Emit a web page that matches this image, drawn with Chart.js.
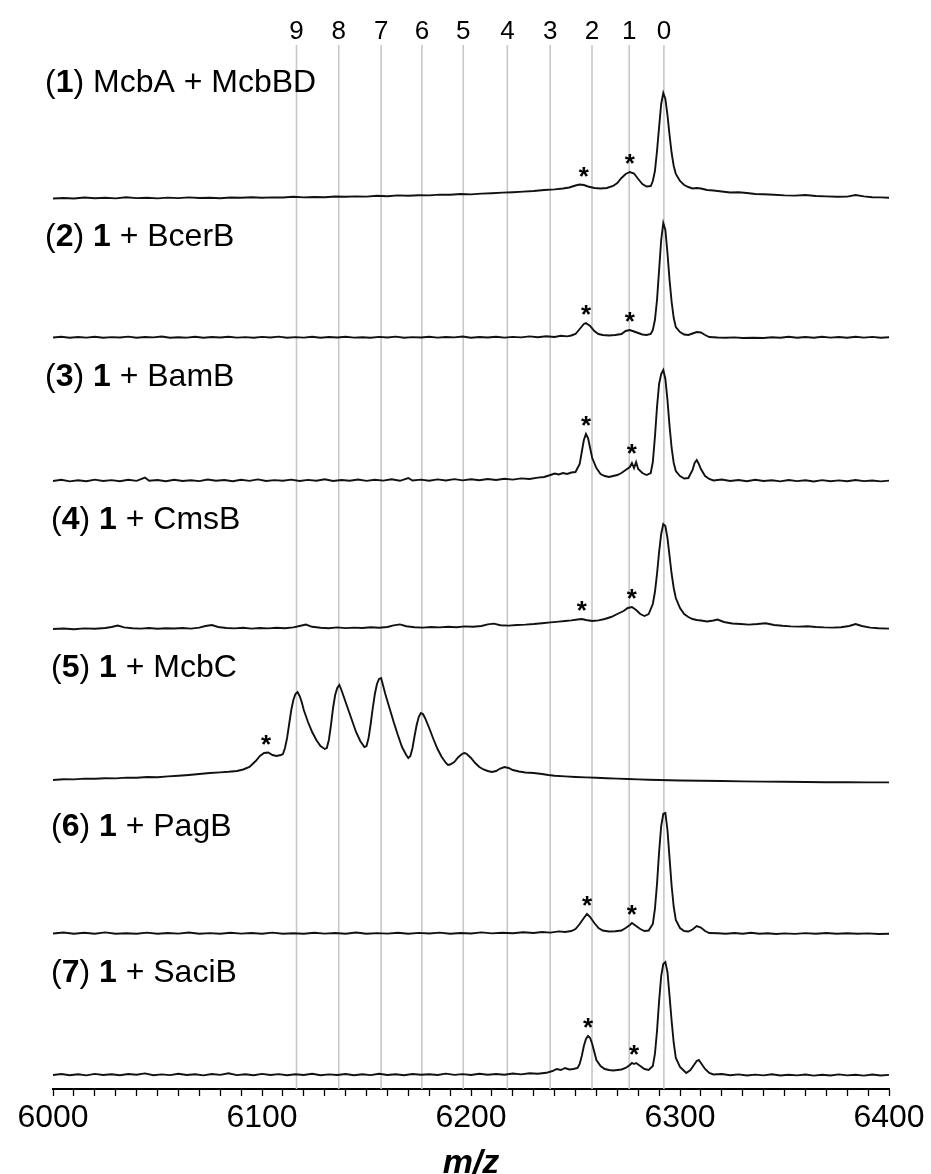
<!DOCTYPE html>
<html>
<head>
<meta charset="utf-8">
<script src="https://cdn.jsdelivr.net/npm/chart.js@4.4.0/dist/chart.umd.min.js"></script>
<style>
  html, body { margin: 0; padding: 0; background: #fff; }
  #wrap { width: 931px; height: 1174px; }
</style>
</head>
<body>
<div id="wrap"><canvas id="chart" width="931" height="1174"></canvas></div>
<script>
// m/z positions of the numbered reference lines and their labels
const markerMz = [6116.5, 6136.7, 6157, 6176.5, 6196.3, 6217.4, 6237.9, 6257.9, 6275.7, 6292.3];
const markerLabels = ['9', '8', '7', '6', '5', '4', '3', '2', '1', '0'];

// panel names: [panel number, rest of the label]
const panelNums = ['1', '2', '3', '4', '5', '6', '7'];
const panelNames = ['McbA + McbBD', 'BcerB', 'BamB', 'CmsB', 'McbC', 'PagB', 'SaciB'];

// baseline of each trace on the stacked intensity axis
const panelOffsets = [890, 751, 607, 459, 309, 155, 13];

// m/z of the peaks marked with *
const starMz = [
  [6254, 6276],
  [6255, 6276],
  [6255, 6277],
  [6253, 6277],
  [6102],
  [6255.5, 6277],
  [6256, 6278]
];

// spectra: [m/z, intensity]
const spec1 = [[6000,0.5],[6005,1],[6010,0.5],[6015,1.5],[6020,0.8],[6025,1.2],[6030,0.6],[6035,1.8],[6040,0.9],[6045,1.2],[6050,0.6],[6055,1.4],[6060,0.9],[6065,1.6],[6070,1],[6075,1.2],[6080,0.8],[6085,1.5],[6090,1.3],[6095,1.8],[6100,1.2],[6105,1.6],[6110,1.5],[6115,2.2],[6120,1.6],[6125,2],[6130,1.8],[6135,2.5],[6140,2.2],[6145,2.6],[6150,2.4],[6155,3.2],[6160,2.8],[6165,3.6],[6170,3.2],[6175,3.8],[6180,3.6],[6185,4.4],[6190,4.2],[6195,5],[6200,4.6],[6205,5.4],[6210,5.8],[6215,6.4],[6220,6.8],[6225,7.4],[6230,8],[6235,9],[6240,9.6],[6244,10.5],[6247,11.5],[6250,13.5],[6252,14.5],[6254,14],[6256,12.5],[6259,11],[6262,10.5],[6265,11],[6268,13],[6270,16],[6272,21],[6274,25],[6276,27],[6278,25.5],[6280,20],[6282,15],[6284,12.5],[6286,13],[6287,18],[6288,28],[6289,48],[6290,72],[6291,95],[6292,106],[6293,100],[6294,84],[6295,64],[6296,46],[6297,33],[6298,25],[6300,18],[6302,14],[6304,12],[6306,10.5],[6308,11],[6310,10.5],[6313,9],[6316,8.5],[6320,7.5],[6324,6.5],[6328,6.8],[6332,6],[6336,5],[6340,4.8],[6345,4.2],[6350,3.6],[6355,3.4],[6360,4],[6365,3],[6370,2.6],[6375,2.2],[6380,2.4],[6384,4],[6388,2.6],[6392,1.8],[6396,1.6],[6400,1.2]];

const spec2 = [[6000,0.5],[6004,1.2],[6008,0.3],[6012,1],[6016,0.4],[6020,1.3],[6024,0.2],[6028,0.9],[6032,0.5],[6036,1.4],[6040,0.3],[6044,1],[6048,0.6],[6052,1.5],[6056,0.2],[6060,0.8],[6064,0.4],[6068,1.2],[6072,0.3],[6076,1],[6080,0.5],[6084,1.3],[6088,0.4],[6092,0.9],[6096,0.3],[6100,1.1],[6104,0.5],[6108,1.4],[6112,0.2],[6116,0.9],[6120,0.4],[6124,1.2],[6128,0.3],[6132,1],[6136,0.5],[6140,1.3],[6144,0.4],[6148,0.8],[6152,0.3],[6156,1.1],[6160,0.5],[6164,1.4],[6168,0.3],[6172,0.9],[6176,0.5],[6180,1.2],[6184,0.4],[6188,1],[6192,0.6],[6196,1.5],[6200,0.3],[6204,1],[6208,0.5],[6212,1.3],[6216,0.4],[6220,1.1],[6224,0.6],[6228,1.6],[6232,0.8],[6236,1.8],[6240,1],[6243,2.2],[6246,1.6],[6248,2.5],[6250,4],[6252,9],[6254,14],[6255,15],[6257,12],[6259,7],[6261,4],[6263,3],[6266,2.5],[6269,3],[6272,4],[6274,7],[6276,8],[6278,6.5],[6280,5],[6282,3.5],[6284,3],[6286,4],[6287,8],[6288,18],[6289,38],[6290,68],[6291,98],[6292,115],[6293,108],[6294,85],[6295,58],[6296,36],[6297,20],[6298,11],[6300,6],[6302,3.5],[6304,3],[6306,4.5],[6308,6],[6310,5.5],[6312,3],[6314,1],[6318,0.5],[6322,0.2],[6326,0.6],[6330,0],[6335,0.3],[6340,0],[6344,0.8],[6348,0.2],[6352,1.2],[6356,0.3],[6360,1],[6364,0.2],[6368,1.3],[6372,0.4],[6376,1],[6380,0.3],[6384,1.2],[6388,0.4],[6392,1.1],[6396,0.3],[6400,0.8]];

const spec3 = [[6000,1],[6004,2.2],[6008,0.6],[6012,1.8],[6016,0.8],[6020,2.4],[6024,1],[6028,1.9],[6032,0.7],[6036,2.2],[6040,1.1],[6044,4.5],[6046,1.2],[6050,2],[6054,0.8],[6058,2.3],[6062,1],[6066,1.8],[6070,0.9],[6074,2.5],[6078,1.2],[6082,2],[6086,0.8],[6090,2.2],[6094,1.1],[6098,2.6],[6102,1],[6106,1.9],[6110,1.3],[6114,2.4],[6118,1],[6122,2.1],[6126,1.2],[6130,2.7],[6134,1],[6138,2],[6142,1.3],[6146,2.5],[6150,1.1],[6154,2.2],[6158,1.4],[6162,2.8],[6166,1.2],[6170,4],[6172,1.5],[6176,2.4],[6180,1.3],[6184,2.6],[6188,1.5],[6192,2.9],[6196,1.6],[6200,2.7],[6204,1.8],[6208,3],[6212,2],[6216,3.2],[6220,2.4],[6224,3.6],[6228,3],[6232,4.4],[6235,5],[6238,7],[6240,8.5],[6242,7.5],[6244,9],[6246,8],[6248,9.5],[6250,10],[6252,18],[6253,30],[6254,42],[6255,48],[6256,44],[6257,34],[6258,24],[6260,14],[6262,8],[6264,6],[6266,5],[6268,6],[6270,7],[6272,9],[6274,12],[6276,15],[6277,19],[6278,14],[6279,20],[6280,13],[6282,9],[6284,7],[6286,9],[6287,20],[6288,45],[6289,75],[6290,98],[6291,108],[6292,112],[6293,103],[6294,82],[6295,56],[6296,34],[6297,19],[6298,11],[6300,6],[6302,3.5],[6304,4],[6306,12],[6307,19],[6308,22],[6309,18],[6310,13],[6312,6],[6314,3],[6316,1.5],[6320,2.5],[6324,1],[6328,2],[6332,0.8],[6336,2.2],[6340,1],[6344,1.8],[6348,0.6],[6352,2],[6356,0.9],[6360,1.7],[6364,0.5],[6368,1.9],[6372,0.8],[6376,1.6],[6380,0.7],[6384,2],[6388,0.9],[6392,1.5],[6396,0.6],[6400,1.4]];

const spec4 = [[6000,1],[6005,1.5],[6010,0.8],[6015,1.6],[6020,1.2],[6025,2],[6028,3],[6031,4.5],[6034,2.6],[6038,1.8],[6042,1.4],[6046,2],[6050,1.2],[6054,1.8],[6058,1.5],[6062,2],[6066,1.4],[6070,2.4],[6073,4],[6076,5],[6079,3],[6083,2],[6087,1.6],[6091,2.2],[6095,1.4],[6099,2],[6103,1.6],[6107,2.2],[6111,1.8],[6115,2.6],[6118,4],[6121,5.5],[6124,3.2],[6128,2.2],[6132,1.8],[6136,2.6],[6140,1.9],[6144,2.4],[6148,2],[6152,2.8],[6156,2.2],[6160,3],[6163,4.6],[6166,5.6],[6169,3.8],[6173,2.8],[6177,2.4],[6181,3],[6185,2.6],[6189,3.2],[6193,2.8],[6197,3.6],[6201,3.2],[6205,4],[6208,5.6],[6211,6.4],[6214,4.8],[6218,4.4],[6222,5],[6226,5.4],[6230,6],[6234,6.8],[6238,7.6],[6242,8.4],[6245,9],[6248,9.6],[6251,10.5],[6253,11],[6255,10],[6258,9],[6261,9.6],[6264,11],[6267,13],[6270,16],[6273,19],[6275,22],[6277,23],[6279,20],[6281,16],[6283,14],[6285,16],[6287,26],[6288,38],[6289,56],[6290,78],[6291,96],[6292,106],[6293,104],[6294,92],[6295,74],[6296,56],[6297,42],[6298,32],[6300,22],[6302,16],[6304,13],[6306,11],[6308,10],[6310,9.5],[6313,8.5],[6316,9.5],[6318,10.5],[6321,8],[6325,6.5],[6329,6],[6333,5.4],[6337,6],[6341,6.8],[6345,5],[6349,4.2],[6353,3.6],[6357,3.4],[6361,3.8],[6365,3],[6369,2.6],[6373,2.4],[6377,2.8],[6381,4],[6384,6],[6387,4],[6391,2.4],[6395,1.8],[6400,1.4]];

const spec5 = [[6000,0],[6005,0.8],[6010,0.6],[6015,1.4],[6020,1.2],[6025,1.8],[6030,1.6],[6035,2.4],[6040,2.2],[6045,3],[6050,2.8],[6055,3.6],[6060,4.2],[6065,5],[6070,6],[6075,7],[6080,7.6],[6084,8.2],[6088,9],[6091,10.5],[6094,13],[6097,19],[6099,24],[6101,27],[6103,27.5],[6105,25],[6107,24],[6109,25],[6110,26],[6111,32],[6112,42],[6113,56],[6114,70],[6115,80],[6116,86],[6117,88],[6118,84],[6119,78],[6120,70],[6122,58],[6124,48],[6126,40],[6128,34],[6130,31],[6131,32],[6132,40],[6133,55],[6134,72],[6135,85],[6136,92],[6137,95],[6138,90],[6139,84],[6141,72],[6143,60],[6145,48],[6147,39],[6149,33],[6150,34],[6151,42],[6152,56],[6153,72],[6154,86],[6155,96],[6156,101],[6157,102],[6158,94],[6159,86],[6161,72],[6163,58],[6165,45],[6167,33],[6169,25],[6170,22],[6171,24],[6172,32],[6173,44],[6174,55],[6175,63],[6176,67],[6177,66],[6178,62],[6180,52],[6182,41],[6184,31],[6186,23],[6188,17],[6189,15],[6190,15.5],[6192,18],[6194,23],[6196,26.5],[6197,27],[6198,26],[6200,22],[6202,17],[6204,13],[6206,10.5],[6208,9],[6210,8],[6212,9],[6214,11.5],[6216,13],[6218,12],[6220,10],[6223,8.5],[6226,7.5],[6230,7],[6234,6],[6237,5],[6240,4.2],[6245,3.6],[6250,3],[6255,2.6],[6260,2.2],[6265,1.8],[6270,1.4],[6275,1],[6280,0.6],[6285,0.2],[6290,0],[6300,-0.5],[6310,-0.8],[6320,-1],[6330,-1.4],[6340,-1.6],[6350,-1.8],[6360,-2],[6370,-2.2],[6380,-2.2],[6390,-2.4],[6400,-2.4]];

const spec6 = [[6000,0.5],[6005,1.5],[6010,0.2],[6015,1.2],[6020,0.3],[6025,1.6],[6030,0.2],[6035,0.8],[6040,0.3],[6045,1.4],[6050,0.2],[6055,1],[6060,0.4],[6065,1.5],[6070,0.2],[6075,0.9],[6080,0.3],[6085,1.3],[6090,0.4],[6095,1],[6100,0.2],[6105,1.4],[6110,0.3],[6115,0.8],[6120,0.2],[6125,1.2],[6130,0.4],[6135,1],[6140,0.2],[6145,1.5],[6150,0.3],[6155,0.9],[6160,0.4],[6165,1.3],[6170,0.2],[6175,1.1],[6180,0.5],[6185,1.4],[6190,0.3],[6195,1],[6200,0.5],[6205,1.6],[6210,0.6],[6215,1.3],[6220,0.8],[6225,1.8],[6230,1],[6234,2],[6238,1.4],[6242,2.6],[6245,2],[6248,3],[6250,5],[6252,10],[6254,16],[6255.5,20],[6257,17],[6259,11],[6261,6],[6263,3.5],[6266,2.5],[6269,2.8],[6272,3.5],[6274,6],[6276,9],[6277,11],[6279,8],[6281,5],[6283,3],[6285,3.5],[6287,10],[6288,25],[6289,50],[6290,82],[6291,108],[6292,120],[6293,121],[6294,104],[6295,76],[6296,48],[6297,27],[6298,14],[6300,6],[6302,3],[6304,2.5],[6306,4.5],[6308,8],[6310,6.5],[6312,3],[6314,1],[6318,0.8],[6322,0.2],[6326,1],[6330,0.3],[6334,1.2],[6338,0.2],[6342,0.8],[6346,0],[6350,0.6],[6355,0.1],[6360,0.9],[6365,0.2],[6370,1],[6375,0.3],[6380,0.8],[6385,0.2],[6390,0.6],[6395,0],[6400,0.3]];

const spec7 = [[6000,1],[6004,2],[6008,0.8],[6012,1.8],[6016,0.6],[6020,2.1],[6024,1],[6028,1.7],[6032,0.7],[6036,2],[6040,1.2],[6044,2.6],[6048,0.8],[6052,1.6],[6056,0.9],[6060,2.2],[6064,1],[6068,1.8],[6072,0.6],[6076,2],[6080,1.1],[6084,2.8],[6088,0.9],[6092,1.7],[6096,0.8],[6100,2.1],[6104,1],[6108,1.9],[6112,0.7],[6116,1.8],[6120,1],[6124,2.2],[6128,0.8],[6132,1.6],[6136,1],[6140,2],[6144,0.7],[6148,1.8],[6152,0.9],[6156,2.3],[6160,1],[6164,1.7],[6168,0.8],[6172,2],[6176,1.2],[6180,1.8],[6184,1],[6188,2.4],[6192,1.1],[6196,1.9],[6200,1],[6204,2.2],[6208,1.3],[6212,2],[6216,1.2],[6220,2.5],[6224,1.6],[6228,2.8],[6232,2.2],[6236,3.2],[6239,5],[6241,7],[6243,6],[6245,8],[6247,6.5],[6249,7],[6251,8],[6252,12],[6253,20],[6254,30],[6255,37],[6256,40],[6257,38],[6258,32],[6259,24],[6260,16],[6262,10],[6264,7],[6266,6],[6268,5.5],[6270,6],[6272,6.5],[6274,8],[6276,11],[6277,13],[6278,12],[6279,13],[6281,10],[6283,7],[6285,6],[6287,10],[6288,22],[6289,45],[6290,75],[6291,100],[6292,112],[6293,114],[6294,104],[6295,80],[6296,55],[6297,33],[6298,18],[6300,9],[6302,5],[6303,3],[6305,6],[6307,12],[6308,15],[6309,16],[6310,13],[6312,7],[6314,3],[6316,1.5],[6320,2],[6324,0.8],[6328,1.6],[6332,0.5],[6336,1.4],[6340,0.6],[6344,1.8],[6348,0.5],[6352,1.2],[6356,0.6],[6360,1.5],[6364,0.4],[6368,1.3],[6372,0.5],[6376,1.6],[6380,0.6],[6384,1.2],[6388,0.4],[6392,1.5],[6396,0.5],[6400,1.1]];

const spectra = [spec1, spec2, spec3, spec4, spec5, spec6, spec7];

// layout of the panel labels (pixels)
const labelX = [45, 45, 45, 51, 51, 51, 51];
const labelY = [83, 237, 377, 520, 668, 827, 973];

const FONT = '"Liberation Sans", Arial, sans-serif';
const Y_MAX = 1044;

// tallest point within +/-2 of a given m/z
function peakTop(spec, mz) {
  let best = -Infinity;
  spec.forEach(p => { if (Math.abs(p[0] - mz) <= 2 && p[1] > best) best = p[1]; });
  return best;
}

const traceSets = spectra.map((spec, i) => ({
  data: spec.map(p => ({x: p[0], y: p[1] + panelOffsets[i]})),
  borderColor: '#111',
  borderWidth: 1.9,
  pointRadius: 0,
  showLine: true,
  tension: 0
}));

const markerSets = markerMz.map(m => ({
  data: [{x: m, y: 0}, {x: m, y: Y_MAX}],
  borderColor: '#c8c8c8',
  borderWidth: 1.6,
  pointRadius: 0,
  showLine: true
}));

const annotate = {
  id: 'annotate',
  afterDatasetsDraw(chart) {
    const {ctx, scales: {x, y}} = chart;
    ctx.save();
    ctx.fillStyle = '#000';

    // numbers above the reference lines
    ctx.font = '26px ' + FONT;
    ctx.textAlign = 'center';
    ctx.textBaseline = 'middle';
    markerMz.forEach((m, i) => ctx.fillText(markerLabels[i], x.getPixelForValue(m), 32));

    // asterisks over the marked peaks
    ctx.font = 'bold 26px ' + FONT;
    starMz.forEach((list, i) => {
      list.forEach(m => {
        const top = peakTop(spectra[i], m) + panelOffsets[i];
        ctx.fillText('*', x.getPixelForValue(m), y.getPixelForValue(top) - 7);
      });
    });

    // panel labels with bold numbers
    ctx.textAlign = 'left';
    panelNames.forEach((name, i) => {
      const parts = [['(', false], [panelNums[i], true], [')', false]];
      if (i === 0) parts.push([' ' + name, false]);
      else parts.push([' ', false], ['1', true], [' + ' + name, false]);
      let px = labelX[i];
      parts.forEach(([t, bold]) => {
        ctx.font = (bold ? 'bold ' : '') + '32px ' + FONT;
        ctx.fillText(t, px, labelY[i]);
        px += ctx.measureText(t).width;
      });
    });
    ctx.restore();
  }
};

new Chart(document.getElementById('chart'), {
  type: 'scatter',
  data: { datasets: [...traceSets, ...markerSets] },
  options: {
    responsive: false,
    animation: false,
    layout: { padding: { left: 53, right: 42, top: 45, bottom: 0 } },
    plugins: { legend: { display: false }, tooltip: { enabled: false } },
    scales: {
      x: {
        type: 'linear',
        min: 6000,
        max: 6400,
        afterFit: (s) => { s.height = 85; },
        border: { color: '#000', width: 2 },
        grid: { drawOnChartArea: false, tickLength: 7, tickColor: '#000', tickWidth: 1.3 },
        ticks: {
          stepSize: 10,
          autoSkip: false,
          maxRotation: 0,
          padding: 3,
          color: '#000',
          font: { family: FONT, size: 32 },
          callback: (v) => (v % 100 === 0 ? String(v) : '')
        },
        title: {
          display: true,
          text: 'm/z',
          color: '#000',
          padding: { top: 0, bottom: 0 },
          font: { family: FONT, size: 34, weight: 'bold', style: 'italic', lineHeight: 0.6 }
        }
      },
      y: { display: false, min: 0, max: Y_MAX }
    }
  },
  plugins: [annotate]
});
</script>
</body>
</html>
